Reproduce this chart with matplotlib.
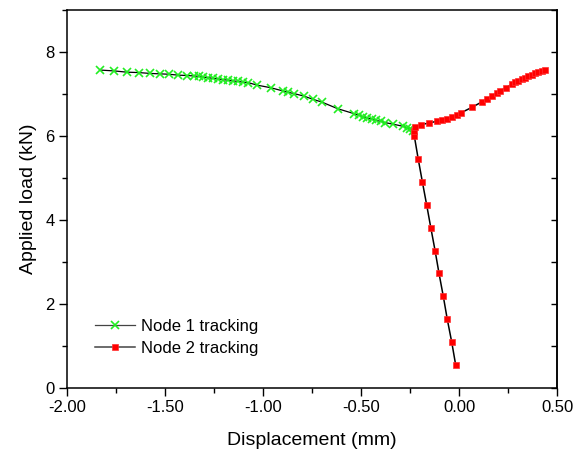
import matplotlib
matplotlib.use("Agg")
import matplotlib.pyplot as plt
from matplotlib.ticker import MultipleLocator, FormatStrFormatter

plt.rcParams['font.family'] = ['Liberation Sans', 'DejaVu Sans']

# Node 1: displacement (mm) and applied load (kN)
node1_disp = [-1.832, -1.760, -1.695, -1.633, -1.577, -1.526, -1.478, -1.435,
              -1.389, -1.352, -1.329, -1.305, -1.279, -1.254, -1.228, -1.203,
              -1.177, -1.152, -1.126, -1.101, -1.075, -1.029, -0.961, -0.896,
              -0.871, -0.842, -0.791, -0.743, -0.701, -0.619, -0.534, -0.509,
              -0.488, -0.468, -0.445, -0.423, -0.400, -0.378, -0.335, -0.284,
              -0.267, -0.250, -0.236]
node1_load = [7.57, 7.55, 7.52, 7.51, 7.49, 7.48, 7.47, 7.45,
              7.44, 7.43, 7.42, 7.40, 7.39, 7.37, 7.36, 7.34,
              7.33, 7.31, 7.30, 7.28, 7.27, 7.21, 7.15, 7.07,
              7.04, 7.01, 6.95, 6.87, 6.81, 6.65, 6.53, 6.49,
              6.46, 6.43, 6.40, 6.37, 6.35, 6.32, 6.28, 6.23,
              6.19, 6.16, 6.13]

# Node 2: displacement (mm) and applied load (kN)
node2_disp = [-0.017, -0.037, -0.060, -0.080, -0.102, -0.122, -0.144, -0.165,
              -0.187, -0.208, -0.228, -0.230, -0.224, -0.195, -0.152, -0.114,
              -0.088, -0.063, -0.037, -0.012, 0.009, 0.065, 0.116, 0.141,
              0.167, 0.192, 0.209, 0.240, 0.269, 0.286, 0.303, 0.320,
              0.337, 0.354, 0.371, 0.388, 0.405, 0.422, 0.440]
node2_load = [0.55, 1.09, 1.64, 2.18, 2.73, 3.27, 3.82, 4.36,
              4.91, 5.45, 6.00, 6.12, 6.21, 6.27, 6.31, 6.35,
              6.37, 6.41, 6.45, 6.50, 6.55, 6.68, 6.81, 6.88,
              6.95, 7.03, 7.07, 7.15, 7.23, 7.28, 7.31, 7.35,
              7.39, 7.42, 7.45, 7.49, 7.52, 7.55, 7.58]

series_labels = ['Node 1 tracking', 'Node 2 tracking']

fig = plt.figure(figsize=(5.82, 4.53), dpi=100)
ax = fig.add_axes([67 / 582, 1 - 388 / 453, 490 / 582, 378 / 453])

ax.plot(node1_disp, node1_load, color='black', lw=0.9,
        marker='x', markersize=5.3, markeredgewidth=1.2,
        markeredgecolor='#22ee22', markerfacecolor='#22ee22',
        label=series_labels[0])
ax.plot(node2_disp, node2_load, color='black', lw=1.1,
        marker='s', markersize=4.8, markeredgewidth=0.5,
        markeredgecolor='#ff3030', markerfacecolor='#ff0000',
        label=series_labels[1])

ax.set_xlim(-2.0, 0.5)
ax.set_ylim(0, 9)
ax.xaxis.set_major_locator(MultipleLocator(0.5))
ax.xaxis.set_minor_locator(MultipleLocator(0.25))
ax.xaxis.set_major_formatter(FormatStrFormatter('%.2f'))
ax.yaxis.set_major_locator(MultipleLocator(2))
ax.yaxis.set_minor_locator(MultipleLocator(1))

for s in ax.spines.values():
    s.set_linewidth(1.1)

ax.tick_params(axis='both', which='major', direction='out', length=6,
               width=1.0, labelsize=12, pad=3)
ax.tick_params(axis='both', which='minor', direction='out', length=3.5,
               width=1.0)

# right-hand axis: inward ticks, no labels
rax = ax.secondary_yaxis('right')
rax.yaxis.set_major_locator(MultipleLocator(1))
rax.tick_params(axis='y', which='both', direction='in', length=4,
                width=1.0, labelright=False)
rax.spines['right'].set_linewidth(1.1)

ax.set_xlabel('Displacement (mm)', fontsize=14, labelpad=12)
ax.set_ylabel('Applied load (kN)', fontsize=14, labelpad=6)

leg = ax.legend(loc='upper left', bbox_to_anchor=(0.057, 0.183),
                frameon=False, fontsize=12, numpoints=1,
                handlelength=2.4, handletextpad=0.35, labelspacing=0.42,
                borderpad=0, borderaxespad=0)
for h in leg.get_lines():
    h.set_color('#444444')

fig.savefig('out.png', dpi=100)
